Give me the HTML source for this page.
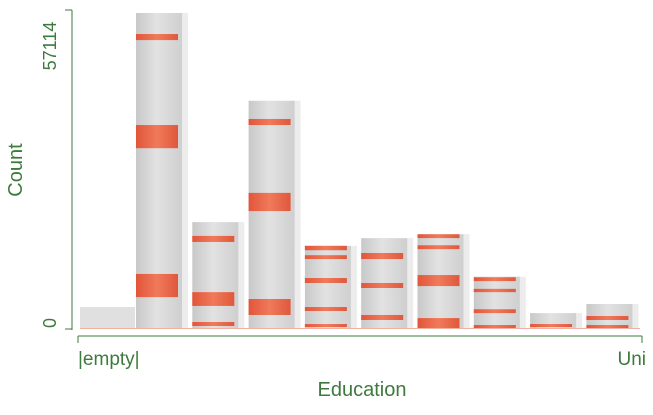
<!DOCTYPE html>
<html><head><meta charset="utf-8"><style>
body{margin:0;background:#fff;width:653px;height:410px;overflow:hidden}
text{font-family:"Liberation Sans",sans-serif;fill:#3d7a3d}
</style></head><body>
<svg id="chart" width="653" height="410" viewBox="0 0 653 410">
<defs>
<linearGradient id="gbar" x1="0" x2="1"><stop offset="0" stop-color="#c8c8c8"/><stop offset="0.45" stop-color="#e2e2e2"/><stop offset="1" stop-color="#cfcfcf"/></linearGradient>
<linearGradient id="rbar" x1="0" x2="1"><stop offset="0" stop-color="#e2553a"/><stop offset="0.5" stop-color="#f07a5a"/><stop offset="1" stop-color="#e0583c"/></linearGradient>
</defs>
<g id="bars"></g>
<line x1="72" y1="10" x2="72" y2="330" stroke="#3d7a3d" stroke-width="1"/>
<line x1="78" y1="336" x2="642" y2="336" stroke="#3d7a3d" stroke-width="1"/>
<line x1="78" y1="336" x2="78" y2="343" stroke="#3d7a3d"/>
<line x1="642" y1="336" x2="642" y2="343" stroke="#3d7a3d"/>
<line x1="65" y1="10" x2="72" y2="10" stroke="#3d7a3d"/>
<line x1="65" y1="329" x2="72" y2="329" stroke="#3d7a3d"/>
<text transform="translate(56,46) rotate(-90)" font-size="18" text-anchor="middle">57114</text>
<text transform="translate(56,323) rotate(-90)" font-size="18" text-anchor="middle">0</text>
<text transform="translate(22,170) rotate(-90)" font-size="20" text-anchor="middle">Count</text>
<text x="78" y="365" font-size="19">|empty|</text>
<text x="646" y="365" font-size="19" text-anchor="end">Uni</text>
<text x="362" y="396" font-size="20" text-anchor="middle">Education</text>
</svg>
<script>
const categories=["|empty|","c2","c3","c4","c5","c6","c7","c8","c9","Uni"];
const totals=[3800,57114,19200,41200,14900,16300,17000,9300,2700,4350];
const redBands=[
 [],
 [[52200,53300],[32600,36800],[5600,9800]],
 [[15600,16700],[4000,6500],[360,1090]],
 [[36800,37900],[21200,24500],[2360,5260]],
 [[14100,14900],[12500,13200],[8160,9060],[3080,3800],[180,720]],
 [[12500,13600],[7250,8160],[1450,2360]],
 [[16300,17000],[14300,15000],[7600,9600],[0,1800]],
 [[8500,9200],[6500,7100],[2700,3400],[0,540]],
 [[180,720]],
 [[1450,2180],[0,540]]
];
const yMax=57114;
const y=v=>328-v/yMax*315;
const x=i=>i===0?80:136+(i-1)*56.3;
const bw=i=>i===0?55:46;
const g=document.getElementById('bars');
const NS="http://www.w3.org/2000/svg";
categories.forEach((c,i)=>{
 const sh=document.createElementNS(NS,'rect');
 
 
 sh.setAttribute('x',x(i)+bw(i)-4);sh.setAttribute('width',i===0?4:10);
 sh.setAttribute('y',y(totals[i]));sh.setAttribute('height',328-y(totals[i]));
 sh.setAttribute('fill','#ececec');g.appendChild(sh);
 const r=document.createElementNS(NS,'rect');
 
 
 r.setAttribute('x',x(i));r.setAttribute('width',bw(i));
 r.setAttribute('y',y(totals[i]));r.setAttribute('height',328-y(totals[i]));
 r.setAttribute('fill',i===0?'#e0e0e0':'url(#gbar)');g.appendChild(r);
 redBands[i].forEach((b,j)=>{
  const rb=document.createElementNS(NS,'rect');
  
  
  rb.setAttribute('x',x(i));rb.setAttribute('width',bw(i)-4);
  rb.setAttribute('y',y(b[1]));rb.setAttribute('height',Math.max(2,y(b[0])-y(b[1])));
  rb.setAttribute('fill','url(#rbar)');g.appendChild(rb);
 });
});
const base=document.createElementNS(NS,'line');


base.setAttribute('x1',80);base.setAttribute('x2',640);base.setAttribute('y1',328.5);base.setAttribute('y2',328.5);
base.setAttribute('stroke','#f3b0a0');g.appendChild(base);
</script>
</body></html>
